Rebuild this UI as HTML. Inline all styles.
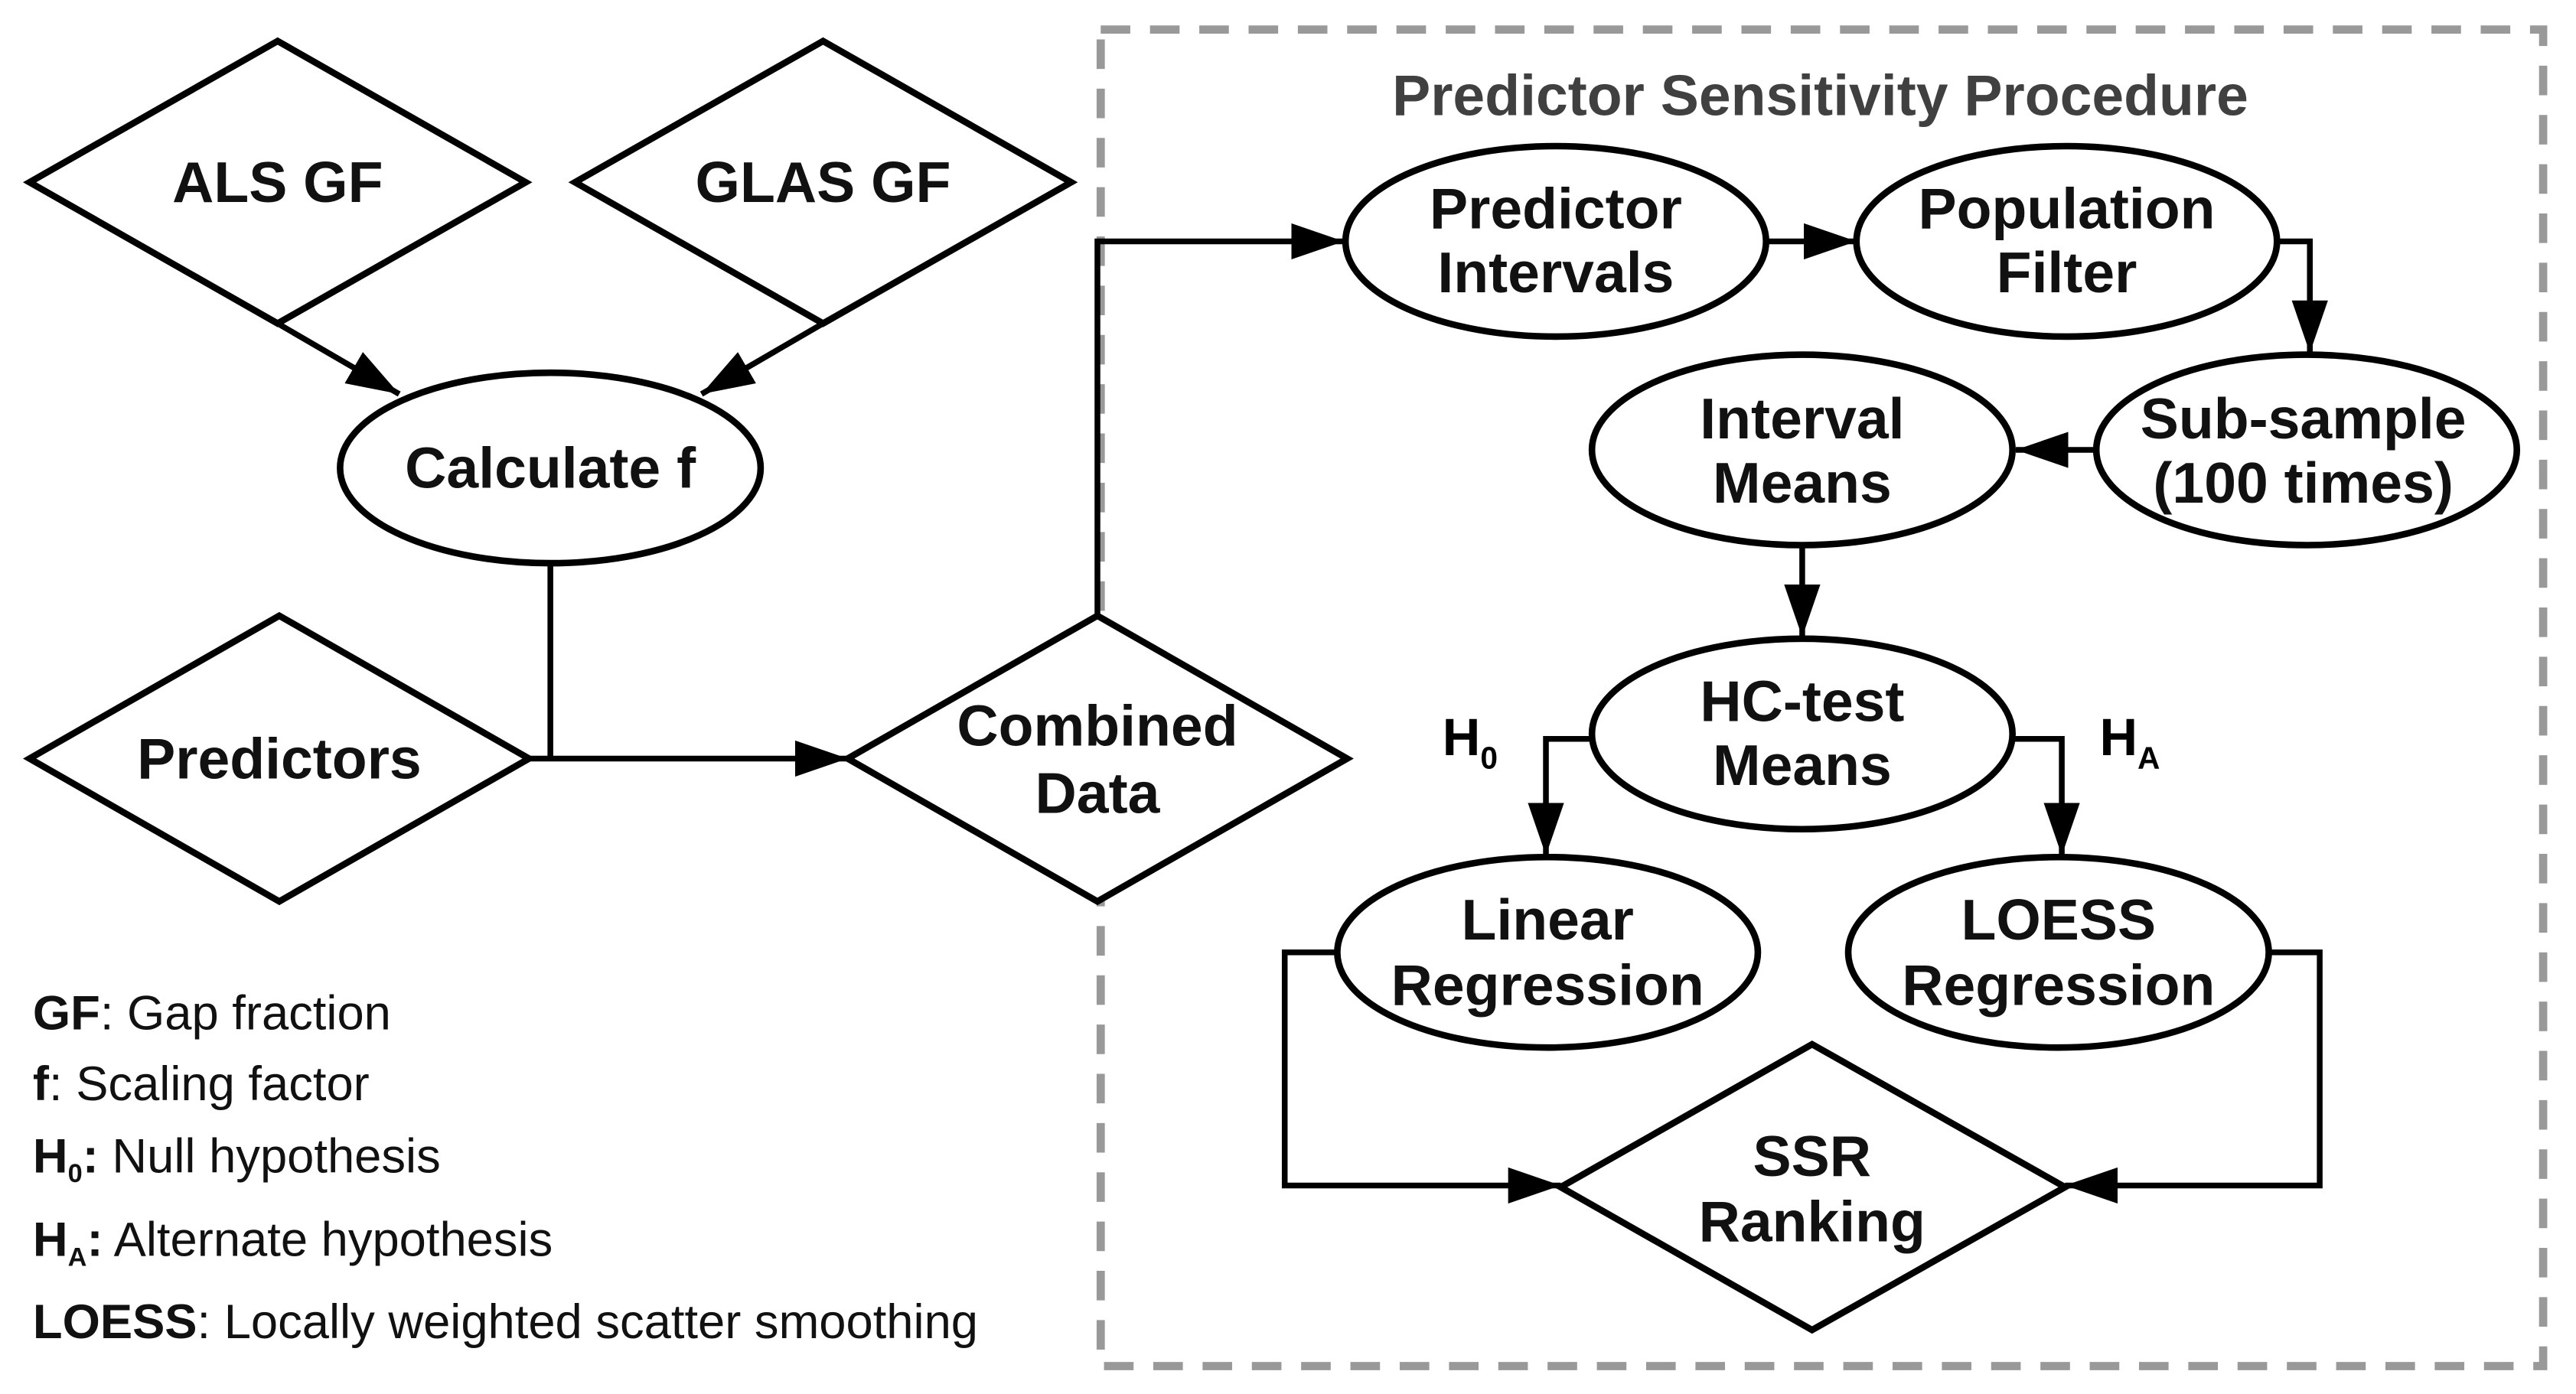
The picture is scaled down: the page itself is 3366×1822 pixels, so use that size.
<!DOCTYPE html>
<html><head><meta charset="utf-8"><style>
html,body{margin:0;padding:0;background:#fff;}
svg{display:block;}
text{font-family:"Liberation Sans",sans-serif;}
.n{font-size:35px;font-weight:bold;text-anchor:middle;dominant-baseline:central;fill:#111;}
.l{font-size:29.5px;fill:#111;}
</style></head><body>
<svg width="3366" height="1822" viewBox="0 0 1568 849" preserveAspectRatio="none" xmlns="http://www.w3.org/2000/svg">
<defs>
<marker id="b" markerWidth="32" markerHeight="22" refX="32" refY="11" orient="auto" markerUnits="userSpaceOnUse"><path d="M0,0 L32,11 L0,22z" fill="#000"/></marker></defs>
<rect x="670" y="18" width="878" height="814" fill="none" stroke="#999" stroke-width="5" stroke-dasharray="18,12"/>
<text x="1108" y="58" class="n" style="fill:#404040">Predictor Sensitivity Procedure</text>
<g fill="#fff" stroke="#000" stroke-width="4">
<polygon points="18,111 169,25 320,111 169,197"/>
<polygon points="350,111 501,25 652,111 501,197"/>
<polygon points="18,462 170,375 322,462 170,549"/>
<polygon points="516,462 668,375 820,462 668,549"/>
<polygon points="950,723 1103,636 1257,723 1103,810"/>
<ellipse cx="335" cy="285" rx="128" ry="58"/>
<ellipse cx="947" cy="147" rx="128" ry="58"/>
<ellipse cx="1258" cy="147" rx="128" ry="58"/>
<ellipse cx="1404" cy="274" rx="128" ry="58"/>
<ellipse cx="1097" cy="274" rx="128" ry="58"/>
<ellipse cx="1097" cy="447" rx="128" ry="58"/>
<ellipse cx="942" cy="580" rx="128" ry="58"/>
<ellipse cx="1253" cy="580" rx="128" ry="58"/>
</g>
<g fill="none" stroke="#000" stroke-width="3.5" marker-end="url(#b)">
<path d="M169,197 L243,240"/>
<path d="M501,197 L427,240"/>
<path d="M335,343 L335,462 M322,462 L516,462"/>
<path d="M668,375 L668,147 L818,147"/>
<path d="M1075,147 L1130,147"/>
<path d="M1386,147 L1406,147 L1406,215"/>
<path d="M1276,274 L1227,274"/>
<path d="M1097,332 L1097,388"/>
<path d="M969,450 L941,450 L941,521"/>
<path d="M1225,450 L1255,450 L1255,521"/>
<path d="M814,580 L782,580 L782,722 L950,722"/>
<path d="M1381,580 L1412,580 L1412,722 L1257,722"/>
</g>
<text x="169" y="111" class="n">ALS GF</text>
<text x="501" y="111" class="n">GLAS GF</text>
<text x="335" y="285" class="n">Calculate f</text>
<text x="170" y="462" class="n">Predictors</text>
<text x="668" y="442" class="n">Combined</text><text x="668" y="483" class="n">Data</text>
<text x="947" y="127" class="n">Predictor</text><text x="947" y="166" class="n">Intervals</text>
<text x="1258" y="127" class="n">Population</text><text x="1258" y="166" class="n">Filter</text>
<text x="1402" y="255" class="n">Sub-sample</text><text x="1402" y="294" class="n">(100 times)</text>
<text x="1097" y="255" class="n">Interval</text><text x="1097" y="294" class="n">Means</text>
<text x="1097" y="427" class="n">HC-test</text><text x="1097" y="466" class="n">Means</text>
<text x="942" y="560" class="n">Linear</text><text x="942" y="600" class="n">Regression</text>
<text x="1253" y="560" class="n">LOESS</text><text x="1253" y="600" class="n">Regression</text>
<text x="1103" y="704" class="n">SSR</text><text x="1103" y="744" class="n">Ranking</text>
<text x="878" y="460" style="font-size:32px;font-weight:bold">H<tspan font-size="19" dy="8">0</tspan></text>
<text x="1278" y="460" style="font-size:32px;font-weight:bold">H<tspan font-size="19" dy="8">A</tspan></text>
<text x="20" y="627" class="l"><tspan font-weight="bold">GF</tspan>: Gap fraction</text>
<text x="20" y="670" class="l"><tspan font-weight="bold">f</tspan>: Scaling factor</text>
<text x="20" y="714" class="l"><tspan font-weight="bold">H<tspan font-size="16" dy="6">0</tspan><tspan dy="-6">:</tspan></tspan> Null hypothesis</text>
<text x="20" y="765" class="l"><tspan font-weight="bold">H<tspan font-size="16" dy="6">A</tspan><tspan dy="-6">:</tspan></tspan> Alternate hypothesis</text>
<text x="20" y="815" class="l"><tspan font-weight="bold">LOESS</tspan>: Locally weighted scatter smoothing</text>
</svg>
</body></html>
